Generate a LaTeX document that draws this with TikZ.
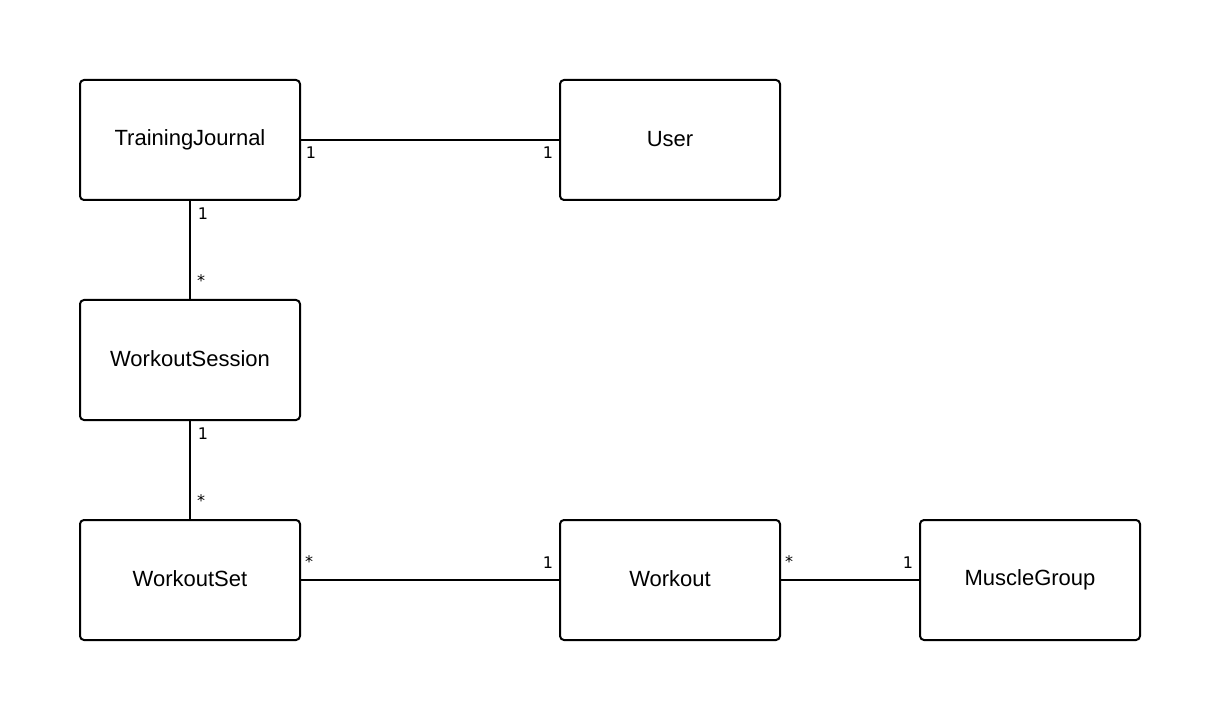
\documentclass[tikz,border=0pt]{standalone}
\usepackage{fontspec}
\setmainfont{Liberation Sans}
\newfontfamily\labfont{DejaVu Sans}
\newcommand{\upt}[1]{\raisebox{2pt}{#1}}
\begin{document}
\begin{tikzpicture}[x=0.75pt,y=-0.75pt,
  cls/.style={draw=black,line width=1.5pt,rounded corners=3pt,minimum width=165pt,minimum height=90pt,inner sep=0pt,font=\fontsize{16.5}{19}\selectfont,fill=white},
  conn/.style={line width=1.5pt},
  lab/.style={font=\labfont\fontsize{12}{14}\selectfont,inner sep=0pt}]
\useasboundingbox (0,0) rectangle (1218,720);
\node[cls] (tj) at (190,140) {\upt{TrainingJournal}};
\node[cls] (user) at (670,140) {\upt{User}};
\node[cls] (ws) at (190,360) {\upt{WorkoutSession}};
\node[cls] (wset) at (190,580) {\upt{WorkoutSet}};
\node[cls] (wo) at (670,580) {\upt{Workout}};
\node[cls] (mg) at (1030,580) {\upt{MuscleGroup}};
\draw[conn] (tj.east) -- (user.west);
\draw[conn] (tj.south) -- (ws.north);
\draw[conn] (ws.south) -- (wset.north);
\draw[conn] (wset.east) -- (wo.west);
\draw[conn] (wo.east) -- (mg.west);
\node[lab] (l1) at (311,153) {1};
\node[lab] (l2) at (548,153) {1};
\node[lab] (l3) at (203,214) {1};
\node[lab] (l4) at (201,281) {*};
\node[lab] (l5) at (203,434) {1};
\node[lab] (l6) at (201,501) {*};
\node[lab] (l7) at (309,562) {*};
\node[lab] (l8) at (548,563) {1};
\node[lab] (l9) at (789,562) {*};
\node[lab] (l10) at (908,563) {1};
\end{tikzpicture}
\end{document}
